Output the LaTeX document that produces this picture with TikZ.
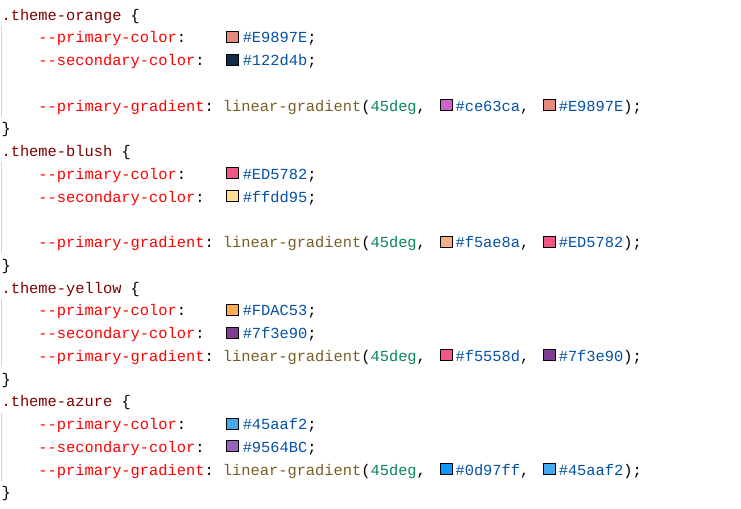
\documentclass[tikz,border=0pt]{standalone}
\usepackage{fontspec}
\setmonofont{Liberation Mono}
\definecolor{selcol}{HTML}{800000}
\definecolor{propcol}{HTML}{FF0000}
\definecolor{funccol}{HTML}{795E26}
\definecolor{numcol}{HTML}{098658}
\definecolor{hexcol}{HTML}{0451A5}
\definecolor{guidecol}{HTML}{D3D3D3}
\tikzstyle{code}=[anchor=base west, inner sep=0pt, text=black, font=\ttfamily\fontsize{11.53pt}{13pt}\selectfont]
\tikzstyle{swatch}=[draw=black, line width=0.75pt, inner sep=0pt, minimum width=9.1pt, minimum height=8.3pt]
\tikzstyle{guide}=[draw=guidecol, line width=0.75pt]

\begin{document}
\begin{tikzpicture}[x=0.75pt, y=-0.75pt]
	    \fill[white] (0,0) rectangle (741,508);
	    \useasboundingbox (0,0) rectangle (741,508);
	    \foreach \a/\b in {1/4, 7/10, 13/15, 18/20}
	        \path[guide] (1.5, 22.75*\a+3) -- (1.5, 22.75*\b+25.75);
	    \foreach \i/\name in {0/orange, 6/blush, 12/yellow, 17/azure}
	        \node[code] (sel\name) at (1.3, 20+22.75*\i) {\textcolor{selcol}{.theme-\name} \{};
	    \foreach \i in {5, 11, 16, 21}
	        \node[code] (close\i) at (1.3, 20+22.75*\i) {\}};
	    \foreach \i/\prop/\hex in {1/primary/E9897E, 2/secondary/122d4b, 7/primary/ED5782, 8/secondary/ffdd95, 13/primary/FDAC53, 14/secondary/7f3e90, 18/primary/45aaf2, 19/secondary/9564BC} {
	        \definecolor{swfill}{HTML}{\hex}
	        \node[code] (prop\i) at (38.2, 20+22.75*\i) {\textcolor{propcol}{--\prop-color}:};
	        \node[swatch, fill=swfill] (sw\i) at (232.8, 20+22.75*\i-5.8) {};
	        \node[code] (hex\i) at (242.5, 20+22.75*\i) {\textcolor{hexcol}{\#\hex};};
	    }
	    \foreach \i/\ca/\cb in {4/ce63ca/E9897E, 10/f5ae8a/ED5782, 15/f5558d/7f3e90, 20/0d97ff/45aaf2} {
	        \definecolor{swa}{HTML}{\ca}
	        \definecolor{swb}{HTML}{\cb}
	        \node[code] (grad\i) at (38.2, 20+22.75*\i) {\textcolor{propcol}{--primary-gradient}: \textcolor{funccol}{linear-gradient}(\textcolor{numcol}{45deg},};
	        \node[swatch, fill=swa] (swa\i) at (446.3, 20+22.75*\i-5.8) {};
	        \node[code] (hexa\i) at (455.3, 20+22.75*\i) {\textcolor{hexcol}{\#\ca},};
	        \node[swatch, fill=swb] (swb\i) at (549.3, 20+22.75*\i-5.8) {};
	        \node[code] (hexb\i) at (558.5, 20+22.75*\i) {\textcolor{hexcol}{\#\cb});};
	    }
	\end{tikzpicture}
\end{document}
